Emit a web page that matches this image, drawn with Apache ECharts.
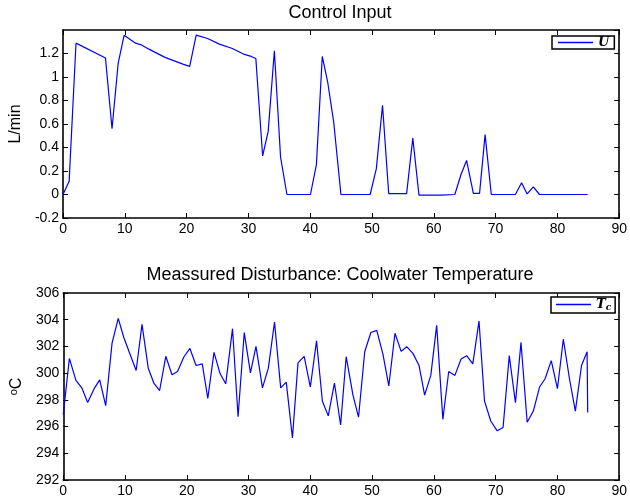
<!DOCTYPE html>
<html>
<head>
<meta charset="utf-8">
<script src="https://cdn.jsdelivr.net/npm/echarts@6/dist/echarts.min.js"></script>
<style>html,body{margin:0;padding:0;background:#fff;}#c{width:630px;height:504px;}</style>
</head>
<body>
<div id="c"></div>
<script>
// ---- data ----
var xTicks = [0, 10, 20, 30, 40, 50, 60, 70, 80, 90];
var uTicks = [-0.2, 0, 0.2, 0.4, 0.6, 0.8, 1, 1.2];
var tTicks = [292, 294, 296, 298, 300, 302, 304, 306];

var uTime = [0, 0.99, 2.1, 6.87, 7.93, 8.93, 9.89, 11.74, 12.65, 13.9, 16.5, 19.4, 20.5, 21.55, 23.4, 25.3, 27.4, 29.2, 30.45, 31.2, 32.3, 33.2, 34.2, 35.2, 36.23, 40.04, 41.0, 41.95, 42.85, 43.8, 44.97, 49.7, 50.7, 51.7, 52.7, 55.6, 56.6, 57.6, 61.3, 63.4, 64.4, 65.3, 66.4, 67.4, 68.3, 69.3, 73.2, 74.2, 75.1, 76.1, 77.1, 84.9];
var uValues = [0, 0.113, 1.288, 1.161, 0.559, 1.119, 1.356, 1.288, 1.274, 1.237, 1.167, 1.11, 1.09, 1.356, 1.328, 1.28, 1.243, 1.195, 1.175, 1.158, 0.328, 0.537, 1.223, 0.319, 0, 0, 0.254, 1.175, 0.949, 0.616, 0, 0, 0.22, 0.76, 0.008, 0.008, 0.48, -0.006, -0.005, 0, 0.17, 0.29, 0.01, 0.01, 0.51, 0, 0, 0.1, 0.005, 0.065, 0, 0];

var tTime = [0, 0.99, 2.05, 3.0, 3.95, 5.0, 5.9, 6.87, 7.9, 8.9,
  9.8, 11.8, 12.75, 13.76, 14.66, 15.6, 16.6, 17.6, 18.5, 19.5,
  20.5, 21.5, 22.5, 23.4, 24.4, 25.4, 26.3, 27.4, 28.3, 29.3,
  30.3, 31.2, 32.25, 33.2, 34.2, 35.2, 36.1, 37.1, 38.0, 39.0,
  40.0, 41.0, 41.95, 42.9, 43.9, 44.9, 45.8, 46.9, 47.8, 48.8,
  49.8, 50.75, 51.75, 52.7, 53.7, 54.7, 55.6, 56.6, 57.6, 58.5,
  59.5, 60.45, 61.45, 62.4, 63.4, 64.4, 65.3, 66.3, 67.3, 68.2,
  69.2, 70.25, 71.2, 72.2, 73.2, 74.1, 75.1, 76.1, 77.1, 78.0,
  79.0, 80.0, 80.95, 81.95, 82.9, 83.9, 84.8, 84.9];
var tValues = [296.9, 301.1, 299.46, 298.9, 297.8, 298.84, 299.5, 297.56, 302.25, 304.1,
  302.67, 300.2, 303.65, 300.37, 299.26, 298.7, 301.26, 299.88, 300.12, 301.19,
  301.85, 300.57, 300.69, 298.1, 301.56, 299.95, 299.2, 303.33, 296.74, 303.04,
  300.02, 302.0, 298.9, 300.37, 303.83, 298.9, 299.33, 295.14, 300.77, 301.26,
  298.96, 302.42, 297.9, 296.8, 299.26, 296.12, 301.23, 298.35, 296.7, 301.6,
  303.04, 303.2, 301.43, 299.04, 302.99, 301.63, 301.98, 301.48, 300.57, 298.35,
  299.83, 303.58, 296.54, 300.12, 299.83, 301.06, 301.31, 300.69, 303.9, 297.9,
  296.42, 295.68, 295.93, 301.31, 297.78, 302.3, 296.32, 297.16, 298.96, 299.58,
  300.94, 298.84, 302.54, 299.58, 297.16, 300.57, 301.6, 297.06];

var titles = ['Control Input', 'Meassured Disturbance: Coolwater Temperature'];
var uName = 'U';
var tName = 'Tc';

// ---- build ----
function pairs(xs, ys) { return xs.map(function (x, i) { return [x, ys[i]]; }); }
var FONT = 'Liberation Sans, Arial, Helvetica, sans-serif';
var SERIF = 'DejaVu Serif, Liberation Serif, serif';
var lineCol = '#000';
var LW = 1.6;

function xAx(grid, pos) {
  return {
    type: 'value', gridIndex: grid, position: pos,
    min: xTicks[0], max: xTicks[xTicks.length - 1], interval: xTicks[1] - xTicks[0],
    axisLine: { show: true, onZero: false, lineStyle: { color: lineCol, width: LW } },
    axisTick: { show: true, inside: true, length: 5, lineStyle: { color: lineCol, width: 1 } },
    axisLabel: { show: pos === 'bottom', color: '#000', fontSize: 14, fontFamily: FONT, margin: 4, showMinLabel: true, showMaxLabel: true },
    splitLine: { show: false }
  };
}
function yAx(grid, pos, ticks, max, extra) {
  var o = {
    type: 'value', gridIndex: grid, position: pos,
    min: ticks[0], max: max, interval: ticks[1] - ticks[0],
    axisLine: { show: true, onZero: false, lineStyle: { color: lineCol, width: LW } },
    axisTick: { show: true, inside: true, length: 5, lineStyle: { color: lineCol, width: 1 } },
    axisLabel: { show: pos === 'left', color: '#000', fontSize: 14, fontFamily: FONT, margin: 4, showMinLabel: true },
    splitLine: { show: false }
  };
  if (extra) for (var k in extra) o[k] = extra[k];
  return o;
}

var yTop = yAx(0, 'left', uTicks, 1.4, {
  name: 'L/min', nameLocation: 'middle', nameRotate: 90, nameGap: 33,
  nameTextStyle: { color: '#000', fontSize: 16, fontFamily: FONT }
});
yTop.axisLabel.showMaxLabel = false;
var yTopR = yAx(0, 'right', uTicks, 1.4);
var yBot = yAx(1, 'left', tTicks, tTicks[tTicks.length - 1], {
  name: '{s|o}{c|C}', nameLocation: 'middle', nameRotate: 90, nameGap: 37,
  nameTextStyle: { color: '#000', fontFamily: FONT, rich: {
    s: { fontSize: 11, fontFamily: FONT, color: '#000', verticalAlign: 'top', padding: [0, 0, 7, 0] },
    c: { fontSize: 16, fontFamily: FONT, color: '#000' }
  } }
});
var yBotR = yAx(1, 'right', tTicks, tTicks[tTicks.length - 1]);

var option = {
  animation: false,
  backgroundColor: '#fff',
  title: [
    { text: titles[0], left: 340, top: 4, textAlign: 'center', padding: 0,
      textStyle: { fontSize: 18, fontWeight: 'normal', color: '#000', fontFamily: FONT } },
    { text: titles[1], left: 340, top: 266, textAlign: 'center', padding: 0,
      textStyle: { fontSize: 18, fontWeight: 'normal', color: '#000', fontFamily: FONT } }
  ],
  grid: [
    { left: 58, right: 8, top: 30, height: 188 },
    { left: 58, right: 8, top: 293, height: 187 }
  ],
  legend: [
    { data: [{ name: uName, icon: 'rect' }], left: 552, top: 36, orient: 'horizontal', padding: [0, 5, 0, 6],
      itemWidth: 35, itemHeight: 1.5, itemGap: 4,
      borderColor: '#000', borderWidth: 1.5, backgroundColor: '#fff',
      textStyle: { fontSize: 13, fontStyle: 'italic', fontWeight: 'bold', fontFamily: SERIF, color: '#000', padding: [0, 0, 0, 0] } },
    { data: [{ name: tName, icon: 'rect' }], left: 551, top: 297, orient: 'horizontal', padding: [1, 4, 1, 5],
      itemWidth: 35, itemHeight: 1.5, itemGap: 3,
      borderColor: '#000', borderWidth: 1.5, backgroundColor: '#fff',
      formatter: function () { return '{t|T}{s|c}'; },
      textStyle: { color: '#000', rich: {
        t: { fontSize: 13, fontStyle: 'italic', fontWeight: 'bold', fontFamily: SERIF, color: '#000' },
        s: { fontSize: 9, fontStyle: 'italic', fontWeight: 'bold', fontFamily: SERIF, color: '#000', verticalAlign: 'bottom', padding: [6, 0, 0, 0] }
      } } }
  ],
  xAxis: [xAx(0, 'bottom'), xAx(0, 'top'), xAx(1, 'bottom'), xAx(1, 'top')],
  yAxis: [yTop, yTopR, yBot, yBotR],
  series: [
    { name: uName, type: 'line', xAxisIndex: 0, yAxisIndex: 0, data: pairs(uTime, uValues),
      symbol: 'none', lineStyle: { color: '#0000ff', width: 1.2 }, itemStyle: { color: '#0000ff' } },
    { name: tName, type: 'line', xAxisIndex: 2, yAxisIndex: 2, data: pairs(tTime, tValues),
      symbol: 'none', lineStyle: { color: '#0000ff', width: 1.2 }, itemStyle: { color: '#0000ff' } }
  ]
};
var chart = echarts.init(document.getElementById('c'), null, { renderer: 'canvas' });
chart.setOption(option);
</script>
</body>
</html>
